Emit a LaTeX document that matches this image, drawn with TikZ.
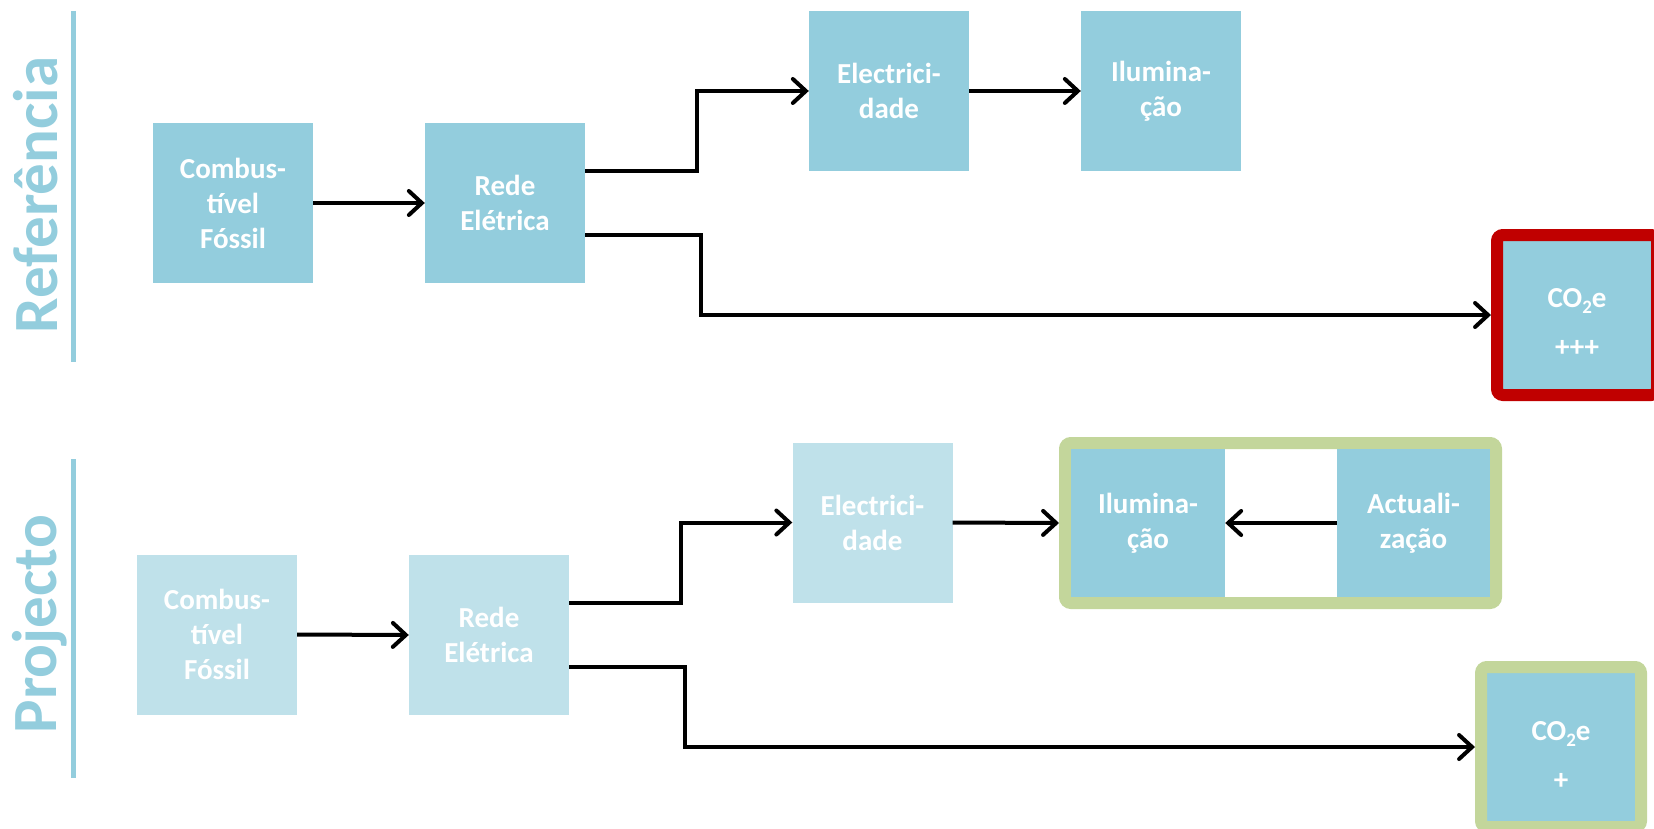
\documentclass[tikz,border=0pt]{standalone}
\usepackage{fontspec}
\setmainfont{Carlito}
\usetikzlibrary{arrows.meta}
\definecolor{aqua}{HTML}{93CDDD}
\definecolor{aqualight}{HTML}{BFE1EA}
\definecolor{redb}{HTML}{C00000}
\definecolor{greenb}{HTML}{C3D69B}
\tikzset{
 box/.style={fill=aqua, minimum width=160pt, minimum height=160pt, inner sep=0pt, align=center, text=white, font=\bfseries\fontsize{29}{35}\selectfont},
 lbox/.style={box, fill=aqualight},
 txt/.style={inner sep=0pt, align=center, text=white, font=\bfseries\fontsize{29}{35}\selectfont},
 conn/.style={line width=4pt, -{Straight Barb[length=13pt,width=24pt,line cap=round]}},
 hdr/.style={rotate=90, anchor=base, inner sep=0pt, text=aqua, font=\bfseries\fontsize{63}{63}\selectfont},
 sideline/.style={draw=aqua, line width=5pt},
}
\newcommand{\cotwo}{CO\raisebox{-0.22em}{\fontsize{19}{19}\selectfont 2}e}
\begin{document}
\begin{tikzpicture}[x=1pt,y=-1pt]
\useasboundingbox (0,0) rectangle (1654,829);
% headers
\node[hdr] (hdrA) at (57,195) {Referência};
\node[hdr] (hdrB) at (56,624) {Projecto};
\draw[sideline] (73,11) coordinate (la1) -- (73,362) coordinate (la2);
\draw[sideline] (73,459) coordinate (lb1) -- (73,778) coordinate (lb2);
% top row
\node[box] (comb1) at (233,203) {Combus-\\tível\\Fóssil};
\node[box] (rede1) at (505,203) {Rede\\Elétrica};
\node[box] (elec1) at (889,91) {Electrici-\\dade};
\node[box] (ilum1) at (1161,91) {Ilumina-\\ção};
\node[box, draw=redb, line width=12pt, rounded corners=6pt,
  label={[txt,yshift=-7pt]center:{\cotwo\\[14pt]+++}}] (co2a) at (1577,315) {};
% bottom row
\node[lbox] (comb2) at (217,634.5) {Combus-\\tível\\Fóssil};
\node[lbox] (rede2) at (489,635) {Rede\\Elétrica};
\node[lbox] (elec2) at (872.5,522.5) {Electrici-\\dade};
\node[draw=greenb, line width=12pt, rounded corners=6pt, minimum width=431pt, minimum height=160pt, inner sep=0pt] (grp) at (1280.5,523) {};
\node[box, minimum width=154pt, minimum height=148pt] (ilum2) at (1148,523) {Ilumina-\\ção};
\node[box, minimum width=153pt, minimum height=148pt] (actu2) at (1413.5,523) {Actuali-\\zação};
\node[box, draw=greenb, line width=12pt, rounded corners=6pt,
  label={[txt,yshift=-8pt]center:{\cotwo\\[14pt]+}}] (co2b) at (1561,747) {};
% connectors top
\draw[conn] (comb1.east) -- (rede1.west);
\draw[conn] ([yshift=32pt]rede1.east) -- ++(112,0) |- (elec1.west);
\draw[conn] ([yshift=-32pt]rede1.east) -- ++(116,0) |- (co2a.west);
\draw[conn] (elec1.east) -- (ilum1.west);
% connectors bottom
\draw[conn] (comb2.east) -- (rede2.west);
\draw[conn] ([yshift=32pt]rede2.east) -- ++(112,0) |- (elec2.west);
\draw[conn] ([yshift=-32pt]rede2.east) -- ++(116,0) |- (co2b.west);
\draw[conn] (elec2.east) -- (grp.west);
\draw[conn] (actu2.west) -- (ilum2.east);
\end{tikzpicture}
\end{document}
